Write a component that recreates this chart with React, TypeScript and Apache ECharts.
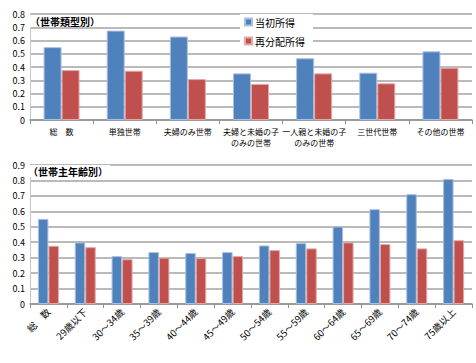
import React, { useEffect, useRef } from "react";
import * as echarts from "echarts";

const typeCategories = ["総　数", "単独世帯", "夫婦のみ世帯", "夫婦と未婚の子\nのみの世帯", "一人親と未婚の子\nのみの世帯", "三世代世帯", "その他の世帯"];
const typeInitial = [0.55, 0.675, 0.63, 0.352, 0.466, 0.357, 0.518];
const typeRedist = [0.377, 0.372, 0.309, 0.272, 0.352, 0.277, 0.395];

const ageCategories = ["総　数", "29歳以下", "30～34歳", "35～39歳", "40～44歳", "45～49歳", "50～54歳", "55～59歳", "60～64歳", "65～69歳", "70～74歳", "75歳以上"];
const ageInitial = [0.551, 0.399, 0.31, 0.336, 0.33, 0.336, 0.379, 0.394, 0.502, 0.614, 0.711, 0.81];
const ageRedist = [0.377, 0.368, 0.29, 0.3, 0.297, 0.31, 0.349, 0.36, 0.399, 0.388, 0.36, 0.413];

const seriesNames = ["当初所得", "再分配所得"];
const BLUE = "#4F81BD";
const RED = "#C0504D";
const FONT = "'Noto Sans CJK JP', 'Noto Sans', sans-serif";

export default function App() {
  const ref = useRef<HTMLDivElement>(null);
  useEffect(() => {
    const chart = echarts.init(ref.current!, null, { renderer: "svg" });
    const gridLine = { show: true, lineStyle: { color: "#a3a3a3", width: 1.5 } };
    const yAxisBase = {
      type: "value" as const,
      min: 0,
      interval: 0.1,
      axisLine: { show: true, lineStyle: { color: "#c8c8c8", width: 1 } },
      axisTick: { show: false },
      axisLabel: { fontSize: 9, color: "#000", fontFamily: FONT, margin: 5 },
      splitLine: gridLine,
    };
    const xAxisBase = {
      type: "category" as const,
      axisLine: { show: true, lineStyle: { color: "#909090", width: 1.5 } },
      axisTick: { show: true, length: 4, lineStyle: { color: "#909090" } },
      splitLine: { show: false },
    };
    const barStyle = (c: string, b: string) => ({ color: c, borderColor: b, borderWidth: 1 });
    chart.setOption({
      animation: false,
      textStyle: { fontFamily: FONT },
      grid: [
        { left: 30, right: 4, top: 14, height: 106 },
        { left: 30, right: 4, top: 165, height: 139 },
      ],
      legend: {
        orient: "vertical",
        left: 240,
        top: 14,
        padding: [3, 8, 3, 4],
        backgroundColor: "#fff",
        itemWidth: 7,
        itemHeight: 7,
        itemGap: 9,
        icon: "rect",
        data: seriesNames,
        textStyle: { fontSize: 10, color: "#000", fontFamily: FONT, padding: [0, 0, 0, -2] },
      },
      title: [
        {
          text: "（世帯類型別）",
          left: 30,
          top: 15,
          padding: [1, 2, 1, 0],
          backgroundColor: "#fff",
          textStyle: { fontSize: 10, fontWeight: "bold", color: "#000", fontFamily: FONT },
        },
        {
          text: "（世帯主年齢別）",
          left: 28,
          top: 165,
          padding: [1, 2, 1, 0],
          backgroundColor: "#fff",
          textStyle: { fontSize: 10, fontWeight: "bold", color: "#000", fontFamily: FONT },
        },
      ],
      xAxis: [
        {
          ...xAxisBase,
          gridIndex: 0,
          data: typeCategories,
          axisLabel: { fontSize: 8, color: "#000", fontFamily: FONT, interval: 0, lineHeight: 11, margin: 6 },
        },
        {
          ...xAxisBase,
          gridIndex: 1,
          data: ageCategories,
          axisLabel: { fontSize: 9.5, color: "#000", fontFamily: FONT, interval: 0, rotate: 45, margin: 6 },
        },
      ],
      yAxis: [
        { ...yAxisBase, gridIndex: 0, max: 0.8 },
        { ...yAxisBase, gridIndex: 1, max: 0.9 },
      ],
      series: [
        {
          name: seriesNames[0], type: "bar", xAxisIndex: 0, yAxisIndex: 0, data: typeInitial,
          itemStyle: barStyle(BLUE, "#a9c1e0"), barGap: "0%", barCategoryGap: "43%",
        },
        {
          name: seriesNames[1], type: "bar", xAxisIndex: 0, yAxisIndex: 0, data: typeRedist,
          itemStyle: barStyle(RED, "#e3a9a7"), barGap: "0%", barCategoryGap: "43%",
        },
        {
          name: seriesNames[0], type: "bar", xAxisIndex: 1, yAxisIndex: 1, data: ageInitial,
          itemStyle: barStyle(BLUE, "#a9c1e0"), barGap: "0%", barCategoryGap: "43%",
        },
        {
          name: seriesNames[1], type: "bar", xAxisIndex: 1, yAxisIndex: 1, data: ageRedist,
          itemStyle: barStyle(RED, "#e3a9a7"), barGap: "0%", barCategoryGap: "43%",
        },
      ],
    });
    return () => chart.dispose();
  }, []);
  return (
    <div
      ref={ref}
      style={{ position: "absolute", left: 0, top: 0, width: 476, height: 363, background: "#fff" }}
    />
  );
}
